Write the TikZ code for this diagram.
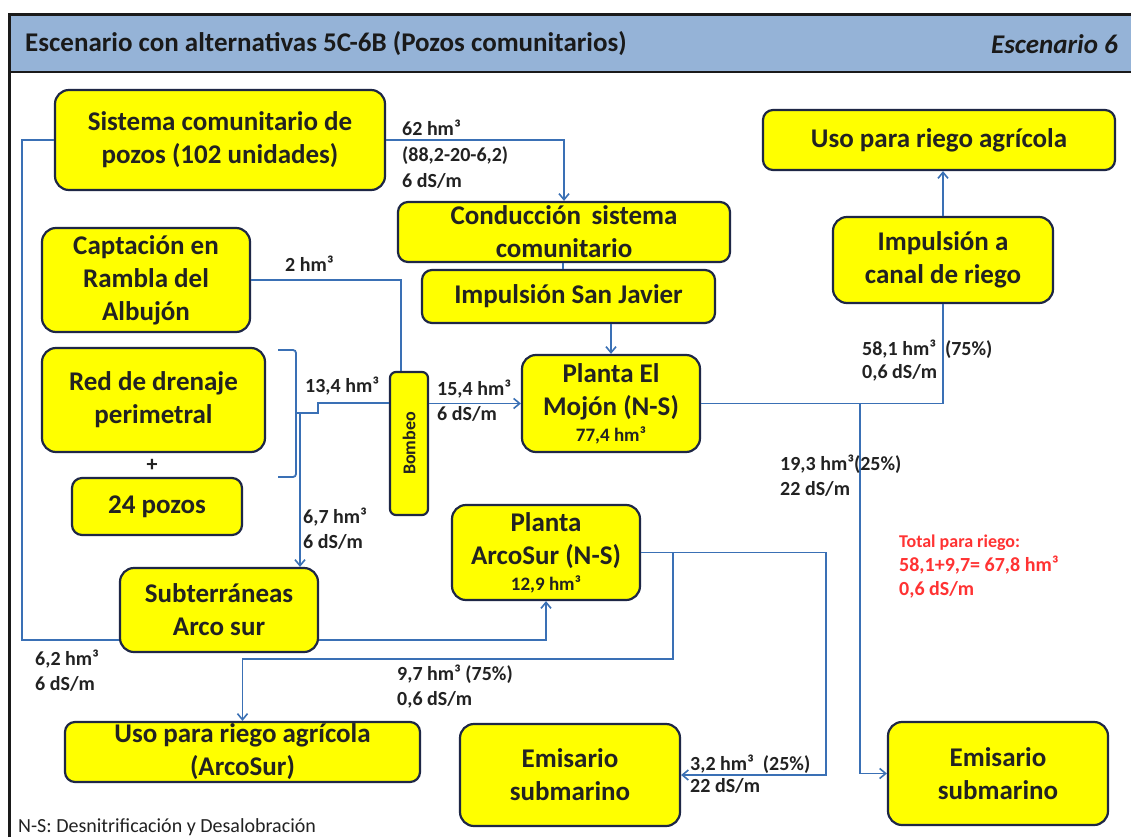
\documentclass[tikz,border=0pt]{standalone}
\usepackage{fontspec}
\usepackage{graphicx}
\setmainfont{Carlito}
\usetikzlibrary{arrows.meta}
\definecolor{boxyellow}{HTML}{FFFF00}
\definecolor{boxedge}{HTML}{1E2746}
\definecolor{flowblue}{HTML}{3A70B5}
\definecolor{titlebg}{HTML}{95B3D7}
\definecolor{framec}{HTML}{1A1A1A}
\definecolor{redtxt}{HTML}{FF3333}
\definecolor{txt}{HTML}{222222}
\begin{document}
\begin{tikzpicture}[x=1pt,y=-1pt,
  box/.style={draw=boxedge, line width=2.2pt, fill=boxyellow, rounded corners=14pt,
    font=\fontsize{27}{33}\selectfont\bfseries, align=center, inner sep=0pt, text=txt},
  flow/.style={draw=flowblue, line width=1.8pt},
  arr/.style={-{Straight Barb[length=6pt,width=10pt,line width=1.6pt]}},
  lbl/.style={font=\fontsize{20}{25}\selectfont\bfseries, anchor=north west, align=left, inner sep=0pt, text=txt},
]
\useasboundingbox (0,0) rectangle (1131,837);
\fill[white] (0,0) rectangle (1131,837);
% title bar and frame
\fill[titlebg] (9,15) rectangle (1131,72);
\draw[framec, line width=3pt] (9,837) -- (9,15) -- (1131,15);
\draw[framec, line width=2.5pt] (9,72) -- (1131,72);
\node[anchor=west, inner sep=0pt, font=\fontsize{27}{30}\selectfont\bfseries, text=framec] (title) at (25,44) {Escenario con alternativas 5C-6B (Pozos comunitarios)};
\node[anchor=east, inner sep=0pt, font=\fontsize{27}{30}\selectfont\bfseries\itshape, text=framec] (scen) at (1118,44) {Escenario 6};

% boxes
\node[box, minimum width=330, minimum height=100] (sis) at (220,140) {Sistema comunitario de\\pozos (102 unidades)};
\node[box, minimum width=208, minimum height=104] (cap) at (146,280) {Captación en\\Rambla del\\Albujón};
\node[box, minimum width=223, minimum height=104] (red) at (153.5,400) {Red de drenaje\\perimetral};
\node[font=\fontsize{22}{24}\selectfont\bfseries, text=txt, inner sep=0pt] (plus) at (152,465) {+};
\node[box, minimum width=170, minimum height=57, rounded corners=10pt] (poz) at (157,506.5) {24 pozos};
\node[box, minimum width=332, minimum height=60, rounded corners=10pt] (con) at (564,232) {Conducción\, sistema\\comunitario};
\node[box, minimum width=293, minimum height=53, rounded corners=10pt] (isj) at (568.5,296.5) {Impulsión San Javier};
\node[box, minimum width=38, minimum height=143, rounded corners=6pt, font=\fontsize{18}{20}\selectfont\bfseries] (bom) at (409,443.5) {\rotatebox{90}{Bombeo}};
\node[box, minimum width=178, minimum height=97] (moj) at (611,403.5) {Planta El\\Mojón (N-S)\\[-7pt]{\fontsize{19}{20}\selectfont 77,4 hm³}};
\node[box, minimum width=188, minimum height=95] (arc) at (546,552.5) {Planta\\ArcoSur (N-S)\\[-7pt]{\fontsize{19}{20}\selectfont 12,9 hm³}};
\node[box, minimum width=198, minimum height=84] (sub) at (219,610) {Subterráneas\\Arco sur};
\node[box, minimum width=355, minimum height=60, rounded corners=10pt] (usoA) at (242.5,752) {Uso para riego agrícola\\(ArcoSur)};
\node[box, minimum width=220, minimum height=102] (emi1) at (570,775) {Emisario\\submarino};
\node[box, minimum width=352, minimum height=60, rounded corners=10pt] (usoR) at (939,140) {Uso para riego agrícola};
\node[box, minimum width=220, minimum height=86] (imc) at (943,260) {Impulsión a\\canal de riego};
\node[box, minimum width=220, minimum height=103] (emi2) at (998,773.5) {Emisario\\submarino};

% connectors
\draw[flow, arr] (sis.east) -| (con.north);
\draw[flow] (sis.west) -- (22,0 |- sis.west) -- (22,640) -- (sub.west |- 0,640);
\draw[flow] (cap.east) -| (401,0 |- bom.north);
\draw[flow, rounded corners=3pt] (278,350) -- (296,350) -- (296,477) -- (278,477);
\draw[flow] (296,413) -- (318,413) -- (318,403) -- (bom.west |- 0,403);
\draw[flow, arr] (300,413) -- (300,0 |- sub.north);
\draw[flow, arr] (bom.east |- moj.west) -- (moj.west);
\draw[flow] (563,0 |- con.south) -- (563,0 |- isj.north);
\draw[flow, arr] (isj.south -| moj.north) -- (moj.north);
\draw[flow] (moj.east) -| (imc.south);
\draw[flow, arr] (imc.north) -- (imc.north |- usoR.south);
\draw[flow, arr] (860,0 |- moj.east) -- (860,0 |- emi2.west) -- (emi2.west);
\draw[flow, arr] (sub.east |- 0,640) -| (arc.south);
\draw[flow, arr] (arc.east) -- (826,0 |- arc.east) -- (826,0 |- emi1.east) -- (emi1.east);
\draw[flow, arr] (673,0 |- arc.east) -- (673,659) -| (usoA.north);

% labels
\node[lbl, font=\fontsize{20}{26}\selectfont\bfseries] (l62) at (402,120) {62 hm³\\(88,2-20-6,2)\\6 dS/m};
\node[lbl] (l2) at (285,256) {2 hm³};
\node[lbl] (l134) at (305,377) {13,4 hm³};
\node[lbl] (l154) at (437,380) {15,4 hm³\\6 dS/m};
\node[lbl] (l67) at (303,508) {6,7 hm³\\6 dS/m};
\node[lbl] (l62b) at (35,650) {6,2 hm³\\6 dS/m};
\node[lbl, font=\fontsize{20}{23}\selectfont\bfseries] (l581) at (862,340) {58,1 hm³\ \ (75\%)\\0,6 dS/m};
\node[lbl] (l193) at (780,455) {19,3 hm³(25\%)\\22 dS/m};
\node[lbl] (l97) at (397,665) {9,7 hm³ (75\%)\\0,6 dS/m};
\node[lbl, font=\fontsize{20}{22}\selectfont\bfseries] (l32) at (690,755) {3,2 hm³\ \ (25\%)\\22 dS/m};
\node[lbl, text=redtxt, font=\fontsize{20}{24}\selectfont\bfseries] (tot) at (899,535) {{\fontsize{18}{22}\selectfont Total para riego:}\\58,1+9,7= 67,8 hm³\\0,6 dS/m};
\node[anchor=west, inner sep=0pt, font=\fontsize{20}{22}\selectfont, text=txt] (foot) at (18,827) {N-S: Desnitrificación y Desalobración};
\end{tikzpicture}
\end{document}
